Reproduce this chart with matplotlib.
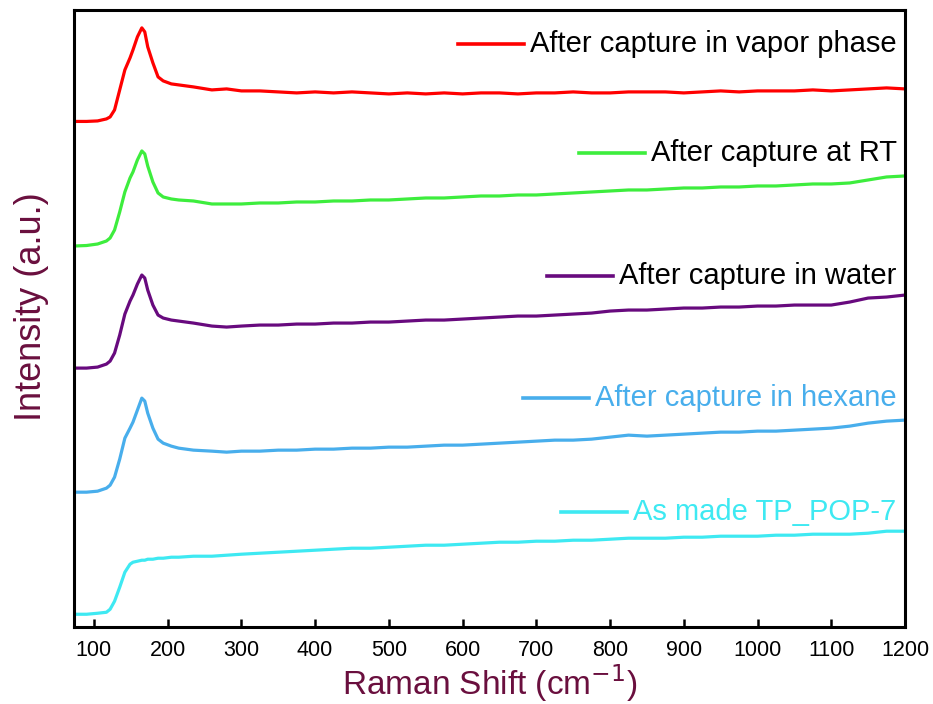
import matplotlib
matplotlib.use('Agg')
import matplotlib.pyplot as plt

# Raman shift axis shared by all spectra (cm-1)
shift = [73, 90, 105, 117, 122, 128, 135, 142, 149, 153, 159, 165, 169, 173, 180, 187,
         194, 205, 215, 235, 260, 280, 300,
         325, 350, 375, 400, 425, 450, 475, 500, 525, 550, 575, 600, 625, 650, 675, 700,
         725, 750, 775, 800, 825, 850, 875, 900, 925, 950, 975, 1000, 1025, 1050, 1075,
         1100, 1125, 1150, 1175, 1200]

# stacked intensities (a.u.)
vapor = [505.5, 505.5, 506, 508, 510, 517, 537, 557, 569, 577, 590, 599, 595, 580, 564, 550,
         546, 543, 542, 540, 537, 538, 536,
         536, 535, 534, 535, 534, 535, 534, 533, 534, 533, 534, 533, 534, 534, 533, 534,
         534, 535, 534, 534, 535, 535, 535, 534, 535, 536, 535, 536, 536, 536, 537,
         536, 537, 538, 539, 538]
rt = [381, 381.5, 383, 386, 389, 397, 415, 435, 449, 455, 467, 476, 473, 461, 445, 434,
      430, 428, 427, 426, 423, 423, 423,
      424, 424, 425, 425, 426, 426, 427, 427, 428, 429, 429, 430, 431, 431, 432, 432,
      433, 434, 435, 436, 437, 437, 438, 439, 439, 440, 440, 441, 441, 442, 443,
      443, 444, 447, 450, 451]
water = [259, 259, 260, 263, 266, 274, 292, 313, 326, 332, 343, 352, 349, 337, 322, 312,
         309, 307, 306, 304, 301, 300, 301,
         302, 302, 303, 303, 304, 304, 305, 305, 306, 307, 307, 308, 309, 310, 311, 311,
         312, 313, 314, 316, 317, 317, 318, 319, 319, 320, 320, 321, 321, 322, 322,
         322, 325, 329, 330, 332]
hexane = [135, 135, 136, 139, 142, 150, 168, 189, 199, 205, 217, 229, 226, 214, 199, 188,
          184, 181, 179, 177, 176, 175, 176,
          176, 177, 177, 178, 178, 179, 179, 180, 180, 181, 182, 182, 183, 184, 185, 186,
          187, 187, 188, 190, 192, 191, 192, 193, 194, 195, 195, 196, 196, 197, 198,
          199, 201, 204, 206, 207]
as_made = [13, 13, 14, 15, 18, 26, 40, 55, 63, 65, 66, 67, 67, 68, 68, 69,
           69, 70, 70, 71, 71, 72, 73,
           74, 75, 76, 77, 78, 79, 79, 80, 81, 82, 82, 83, 84, 85, 85, 86,
           86, 87, 87, 88, 89, 89, 89, 90, 90, 91, 91, 91, 92, 92, 93,
           93, 93, 94, 96, 96]

labels = ['After capture in vapor phase', 'After capture at RT', 'After capture in water',
          'After capture in hexane', 'As made TP_POP-7']
colors = ['#ff0000', '#3ded3d', '#680a7e', '#48aeec', '#3ee9f2']
text_colors = ['black', 'black', 'black', '#48aeec', '#3ee9f2']
label_y = [0.945, 0.768, 0.569, 0.371, 0.186]

axis_color = '#6a0f3e'
plt.rcParams['font.family'] = ['Liberation Sans', 'DejaVu Sans']

fig = plt.figure(figsize=(9.33, 7.04), dpi=100)
ax = fig.add_axes([0.0793, 0.109, 0.8907, 0.877])

for y, c in zip([vapor, rt, water, hexane, as_made], colors):
    ax.plot(shift, y, color=c, lw=2.3)

ax.set_xlim(73, 1200)
ax.set_ylim(0, 617)
ax.set_xticks(range(100, 1201, 100))
ax.set_yticks([])
ax.tick_params(axis='x', direction='in', length=6, width=1.8, labelsize=15.5, pad=9)
for s in ax.spines.values():
    s.set_linewidth(2.2)

ax.set_xlabel('Raman Shift (cm$^{-1}$)', fontsize=24, color=axis_color, labelpad=1)
ax.set_ylabel('Intensity (a.u.)', fontsize=26, color=axis_color)
ax.yaxis.set_label_coords(-0.03, 0.52)

# labels on the right with a short line sample in front of each
texts = []
for lab, ty, tc in zip(labels, label_y, text_colors):
    texts.append(ax.text(0.99, ty, lab, transform=ax.transAxes, ha='right', va='center',
                         fontsize=21, color=tc))
fig.canvas.draw()
inv = ax.transAxes.inverted()
for t, ty, c in zip(texts, label_y, colors):
    bb = t.get_window_extent()
    x1 = inv.transform((bb.x0 - 6, 0))[0]
    x0 = inv.transform((bb.x0 - 72, 0))[0]
    ax.plot([x0, x1], [ty, ty], color=c, lw=2.6, transform=ax.transAxes)

fig.savefig('out.png', dpi=100)
